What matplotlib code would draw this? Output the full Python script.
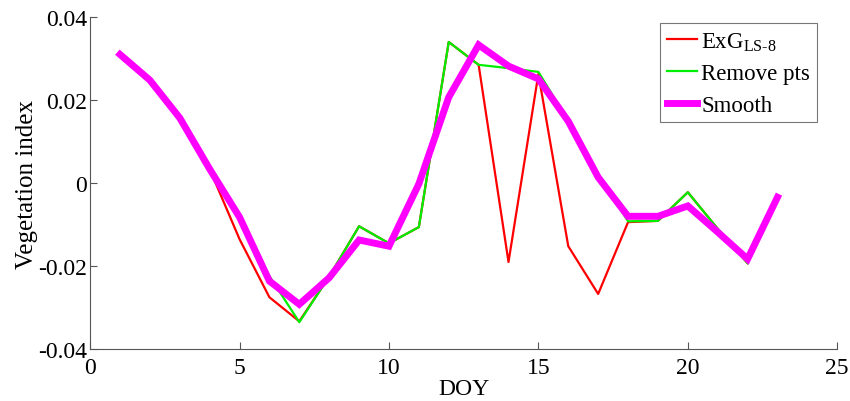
import matplotlib
matplotlib.use('Agg')
import numpy as np
import matplotlib.pyplot as plt
from matplotlib import rcParams

params = {
    'font.family': 'Liberation Serif',
    'mathtext.fontset': 'custom',
    'mathtext.rm': 'Liberation Serif',
    'font.size': 17,
    'axes.unicode_minus': False,
    'xtick.direction': 'in',
    'ytick.direction': 'in',
}
rcParams.update(params)

doy = np.arange(1, 24)
# ExG LS-8 (raw), last day missing
exg = [0.0310, 0.0248, 0.0157, 0.0034, -0.0135, -0.0275, -0.0333, -0.0225,
       -0.0104, -0.0145, -0.0106, 0.0340, 0.0285, -0.0190, 0.0263, -0.0152,
       -0.0267, -0.0094, -0.0091, -0.0022, -0.0110, -0.0193, np.nan]
# after removing outliers
removed = [0.0310, 0.0248, 0.0157, 0.0034, -0.0085, -0.0224, -0.0335, -0.0225,
           -0.0104, -0.0145, -0.0106, 0.0340, 0.0285, 0.0277, 0.0268, 0.0150,
           0.0020, -0.0092, -0.0091, -0.0022, -0.0110, -0.0193, np.nan]
smooth = [0.0310, 0.0248, 0.0157, 0.0034, -0.0082, -0.0236, -0.0292, -0.0228,
          -0.0137, -0.0152, -0.0002, 0.0207, 0.0333, 0.0282, 0.0251, 0.0149,
          0.0014, -0.0080, -0.0080, -0.0055, -0.0118, -0.0183, -0.0034]

fig = plt.figure(figsize=(8.5, 4.02), dpi=100)
ax = fig.add_axes([0.106, 0.129, 0.879, 0.826])

ax.plot(doy, exg, color='#ff0000', lw=1.6, label=r'ExG$_{\mathrm{LS}\text{-}\mathrm{8}}$')
ax.plot(doy, removed, color='#00ee00', lw=1.6, label='Remove pts')
ax.plot(doy, smooth, color='#ff00ff', lw=5, label='Smooth', solid_joinstyle='miter')

ax.set_xlim(0, 25)
ax.set_ylim(-0.04, 0.04)
ax.set_xticks([0, 5, 10, 15, 20, 25])
ax.set_yticks([-0.04, -0.02, 0, 0.02, 0.04])
ax.set_yticklabels(['-0.04', '-0.02', '0', '0.02', '0.04'])
ax.spines['top'].set_visible(False)
ax.spines['right'].set_visible(False)
for s in ['left', 'bottom']:
    ax.spines[s].set_color('#555555')
ax.tick_params(colors='#555555', labelcolor='black', length=5)
ax.tick_params(axis='x', pad=6)
ax.tick_params(axis='y', pad=2)

ax.set_xlabel('DOY', labelpad=0)
ax.set_ylabel('Vegetation index', labelpad=0, fontsize=18)

leg = ax.legend(loc='upper right', bbox_to_anchor=(0.973, 0.982), frameon=True,
                fancybox=False, edgecolor='#555555', handlelength=1.3,
                handletextpad=0.2, borderpad=0.3, labelspacing=0.45,
                borderaxespad=0, fontsize=16.5)
leg.get_frame().set_linewidth(0.8)

plt.savefig('out.png', dpi=100)
